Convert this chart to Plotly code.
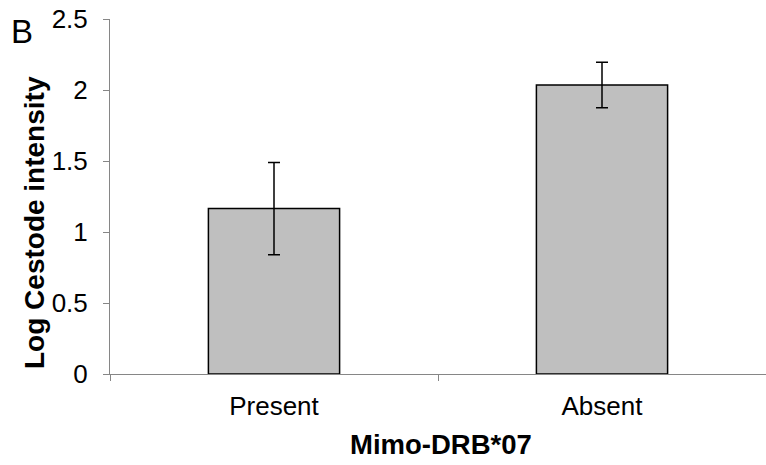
import plotly.graph_objects as go

categories = ["Present", "Absent"]
values = [1.165, 2.035]
errors = [0.325, 0.16]
y_ticks = [0, 0.5, 1, 1.5, 2, 2.5]

FONT = "Liberation Sans, Arial, sans-serif"
AXC = "#868686"

W, H = 766, 465
L, R, T, B = 110, 0, 19, 91
pw, ph = W - L - R, H - T - B

def px_x(p):
    return (p - L) / pw

def px_y(p):
    return (H - B - p) / ph

fig = go.Figure()
fig.add_trace(go.Bar(
    x=categories, y=values,
    marker=dict(color="#BFBFBF", line=dict(color="#000000", width=1.5)),
    error_y=dict(type="data", array=errors, visible=True,
                 color="#000000", thickness=1.5, width=6),
))

fig.update_layout(
    width=W, height=H,
    margin=dict(l=L, r=R, t=T, b=B),
    paper_bgcolor="white", plot_bgcolor="white",
    bargap=0.6, showlegend=False,
    font=dict(family=FONT, color="#000000", size=20),
    xaxis=dict(showline=True, linecolor=AXC, linewidth=1,
               ticks="outside", tickson="boundaries", ticklen=6,
               tickcolor=AXC, tickfont=dict(size=26, family=FONT),
               ticklabelstandoff=9, showgrid=False),
    yaxis=dict(range=[0, 2.5], tickvals=y_ticks, showline=True,
               linecolor=AXC, linewidth=1, ticks="outside", ticklen=6,
               tickcolor=AXC, tickfont=dict(size=26, family=FONT),
               ticklabelstandoff=10, showgrid=False, zeroline=False),
    annotations=[
        dict(text="<b>Log Cestode intensity</b>", textangle=-90,
             xref="paper", yref="paper", x=px_x(34), y=px_y(223),
             xanchor="center", yanchor="middle", showarrow=False,
             font=dict(size=28, family=FONT, color="#000000")),
        dict(text="<b>Mimo-DRB*07</b>",
             xref="paper", yref="paper", x=px_x(441), y=px_y(444),
             xanchor="center", yanchor="middle", showarrow=False,
             font=dict(size=27.5, family=FONT, color="#000000")),
        dict(text="B",
             xref="paper", yref="paper", x=px_x(22), y=px_y(32),
             xanchor="center", yanchor="middle", showarrow=False,
             font=dict(size=33, family=FONT, color="#000000")),
    ],
)

fig.write_html("out.html")
